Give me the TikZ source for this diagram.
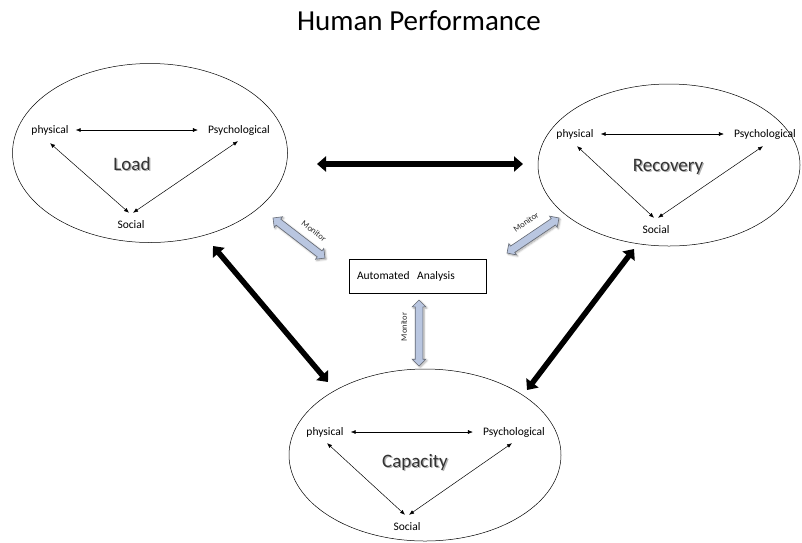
\documentclass[tikz,border=0pt]{standalone}
\usepackage{fontspec}
\setmainfont{Carlito}
\usetikzlibrary{arrows.meta,shapes.arrows,shapes.geometric,calc,shadows.blur}
\definecolor{monfill}{RGB}{185,198,224}
\definecolor{monedge}{RGB}{100,105,115}
\begin{document}
\begin{tikzpicture}[x=1pt,y=-1pt,
  lab/.style={font=\fontsize{11.5}{13}\selectfont, inner sep=1pt},
  bigtext/.style={font=\fontsize{19}{22}\selectfont, text=black!80},
  ell/.style={draw, ellipse, line width=0.5pt, inner sep=0pt},
  thinarr/.style={{Latex[length=5pt,width=4pt]}-{Latex[length=5pt,width=4pt]}, line width=0.5pt},
  bigarr/.style={line width=5.5pt, {Triangle[length=9pt,width=15pt]}-{Triangle[length=9pt,width=15pt]}},
  monarrow/.style={double arrow, draw=monedge, fill=monfill, line width=0.6pt,
    inner sep=3.5pt, minimum width=0pt, double arrow head extend=3pt,
    blur shadow={shadow xshift=1.2pt, shadow yshift=-1.2pt, shadow blur steps=6, shadow opacity=35}},
  montext/.style={font=\fontsize{8.5}{10}\selectfont, text=black!85, inner sep=0pt}
]
\useasboundingbox (0,0) rectangle (802,542);

% title
\node[font=\fontsize{29}{33}\selectfont] (title) at (419,21) {Human Performance};

% ellipses
\node[ell, minimum width=275pt, minimum height=179pt] (load) at (150,153) {};
\node[ell, minimum width=262pt, minimum height=162pt] (rec) at (669,165) {};
\node[ell, minimum width=272pt, minimum height=172pt] (cap) at (425,455) {};

% ---- Load ----
\node[lab] (lp) at (50,130) {physical};
\node[lab] (lq) at (239,130) {Psychological};
\node[lab] (ls) at (131,225) {Social};
\node[bigtext, text=gray!60] at (133.2,165.2) {Load};
\node[bigtext] (lt) at (132,164) {Load};
\draw[thinarr] ([xshift=6pt]lp.east) -- ([xshift=-9pt]lq.west);
\draw[thinarr] ([yshift=-7pt]lp.south) -- ([xshift=-2pt,yshift=7pt]ls.north);
\draw[thinarr] ([xshift=-1pt,yshift=-5pt]lq.south) -- ([xshift=2pt,yshift=7pt]ls.north);

% ---- Recovery ----
\node[lab] (rp) at (575,134) {physical};
\node[lab] (rq) at (765,134) {Psychological};
\node[lab] (rs) at (656,230) {Social};
\node[bigtext, text=gray!60] at (669.2,168.2) {Recovery};
\node[bigtext] (rt) at (668,167) {Recovery};
\draw[thinarr] ([xshift=6pt]rp.east) -- ([xshift=-9pt]rq.west);
\draw[thinarr] ([xshift=2pt,yshift=-6pt]rp.south) -- ([xshift=-2pt,yshift=7pt]rs.north);
\draw[thinarr] ([xshift=-2pt,yshift=-6pt]rq.south) -- ([xshift=2pt,yshift=7pt]rs.north);

% ---- Capacity ----
\node[lab] (cp) at (325,432) {physical};
\node[lab] (cq) at (514,432) {Psychological};
\node[lab] (cs) at (407,527) {Social};
\node[bigtext, text=gray!60] at (416.2,463.2) {Capacity};
\node[bigtext] (ct) at (415,462) {Capacity};
\draw[thinarr] ([xshift=6pt]cp.east) -- ([xshift=-9pt]cq.west);
\draw[thinarr] ([xshift=2pt,yshift=-5pt]cp.south) -- ([xshift=-2pt,yshift=7pt]cs.north);
\draw[thinarr] ([xshift=-2pt,yshift=-5pt]cq.south) -- ([xshift=2pt,yshift=7pt]cs.north);

% ---- Automated Analysis ----
\node[draw, line width=0.5pt, minimum height=34pt, text width=121pt, inner xsep=8pt, align=left,
  font=\fontsize{11.5}{13}\selectfont] (aa) at (417.5,276) {Automated\ \ Analysis};

% ---- big black arrows ----
\coordinate (b1a) at (317,164);
\coordinate (b1b) at (523,164);
\coordinate (b2a) at (213,246);
\coordinate (b2b) at (328,382);
\coordinate (b3a) at (634,249);
\coordinate (b3b) at (527,390);
\draw[bigarr] (b1a) -- (b1b);
\draw[bigarr] (b2a) -- (b2b);
\draw[bigarr] (b3a) -- (b3b);

% ---- monitor arrows ----
\coordinate (m1a) at (273,218);
\coordinate (m1b) at (325,258);
\coordinate (m2a) at (507,253);
\coordinate (m2b) at (559,218);
\coordinate (m3a) at (419,300);
\coordinate (m3b) at (419,366);
\node[monarrow, minimum height=65.6pt, rotate=-37.6] (m1) at ($(m1a)!0.5!(m1b)$) {};
\node[monarrow, minimum height=62.7pt, rotate=34] (m2) at ($(m2a)!0.5!(m2b)$) {};
\node[monarrow, minimum height=66pt, rotate=90] (m3) at ($(m3a)!0.5!(m3b)$) {};
\node[montext, rotate=-37.6] (m1t) at (314,231) {Monitor};
\node[montext, rotate=34] (m2t) at (526,222) {Monitor};
\node[montext, rotate=90] (m3t) at (404,327) {Monitor};
\end{tikzpicture}
\end{document}
